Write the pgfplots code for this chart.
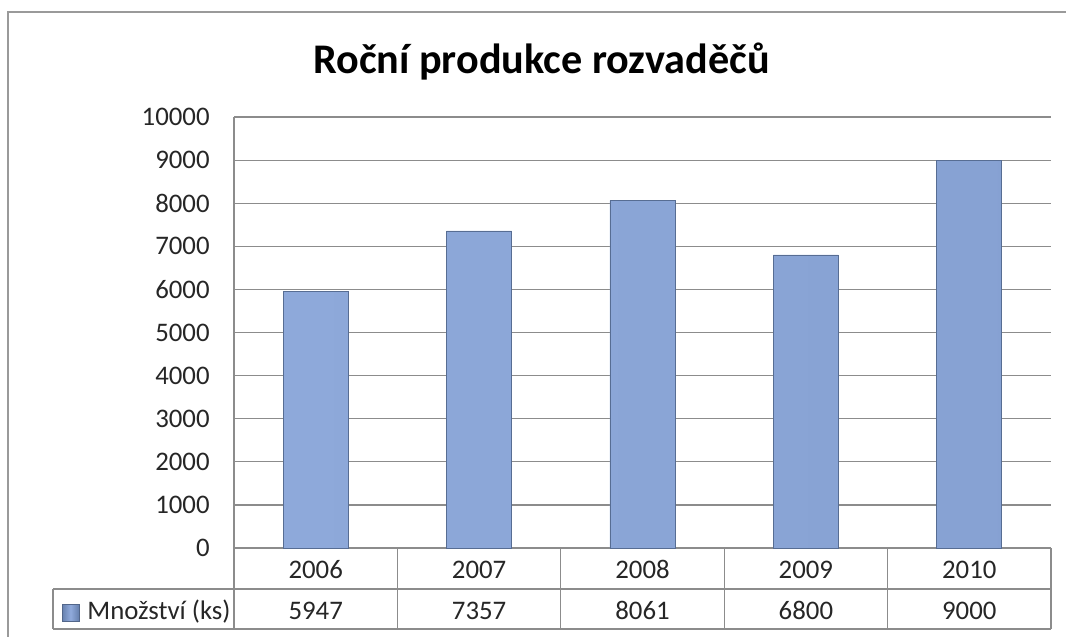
\documentclass[border=0pt]{standalone}
\usepackage{pgfplots}
\pgfplotsset{compat=1.18}
\usepackage{fontspec}
\setmainfont{Carlito}
\definecolor{bdark}{HTML}{6680AD}
\definecolor{blight}{HTML}{90ABDC}
\definecolor{bmid}{HTML}{86A1D2}
\definecolor{gridc}{HTML}{8C8C8C}
\definecolor{framec}{HTML}{9A9A9A}
\pgfdeclarehorizontalshading{barshade}{100bp}{color(0bp)=(bdark); color(12bp)=(blight); color(78bp)=(bmid); color(100bp)=(bdark)}
\begin{document}
\begin{tikzpicture}
\useasboundingbox (0,0) rectangle (533pt,-318.5pt);
\draw[framec, line width=1pt] (4pt,-318.5pt) -- (4pt,-6pt) -- (533pt,-6pt);
\node[font=\bfseries\fontsize{21.1}{24}\selectfont, anchor=base, inner sep=0] at (270.75pt,-36.5pt) {Roční produkce rozvaděčů};
\begin{axis}[
  at={(117pt,-274pt)}, anchor=south west,
  width=408.5pt, height=215.5pt, scale only axis,
  xmin=-0.5, xmax=4.5, ymin=0, ymax=10000,
  ytick distance=1000,
  scaled y ticks=false,
  xtick={0,1,2,3,4},
  xticklabels={2006,2007,2008,2009,2010},
  major tick length=0pt,
  axis x line=bottom, axis y line=left,
  axis line style={draw=gridc, line width=0.6pt, -},
  ymajorgrids, grid style={draw=gridc, line width=0.6pt},
  /pgf/number format/assume math mode=true,
  /pgf/number format/1000 sep={},
  tick label style={font=\fontsize{13.4}{15}\selectfont, text=black!85},
  yticklabel style={anchor=east, inner sep=0pt, xshift=-12pt},
  xticklabel style={anchor=base, inner sep=0pt, yshift=-15pt},
  clip=false,
]
\addplot[ybar, bar width=32.5pt, bar shift=0pt, draw=bdark!85!black, line width=0.4pt, shading=barshade]
  coordinates {(0,5947) (1,7357) (2,8061) (3,6800) (4,9000)};
\end{axis}
% data table
\begin{scope}[gridc, line width=0.6pt]
\draw (26.5pt,-294.5pt) -- (525.5pt,-294.5pt);
\draw (26.5pt,-314.5pt) -- (525.5pt,-314.5pt);
\draw (26.5pt,-294.5pt) -- (26.5pt,-314.5pt);
\foreach \x in {117,198.7,280.4,362.1,443.8,525.5} {\draw (\x pt,-274pt) -- (\x pt,-314.5pt);}
\end{scope}
\shade[left color=bdark, right color=bdark, middle color=blight, draw=bdark!80!black, line width=0.3pt] (31pt,-302pt) rectangle (39.5pt,-310.5pt);
\begin{scope}[every node/.style={font=\fontsize{13.4}{15}\selectfont, text=black!85, anchor=base, inner sep=0pt}]
\node[anchor=base west] at (43.5pt,-309.5pt) {Množství (ks)};
\node at (157.85pt,-309.5pt) {5947};
\node at (239.55pt,-309.5pt) {7357};
\node at (321.25pt,-309.5pt) {8061};
\node at (402.95pt,-309.5pt) {6800};
\node at (484.65pt,-309.5pt) {9000};
\end{scope}
\end{tikzpicture}
\end{document}
